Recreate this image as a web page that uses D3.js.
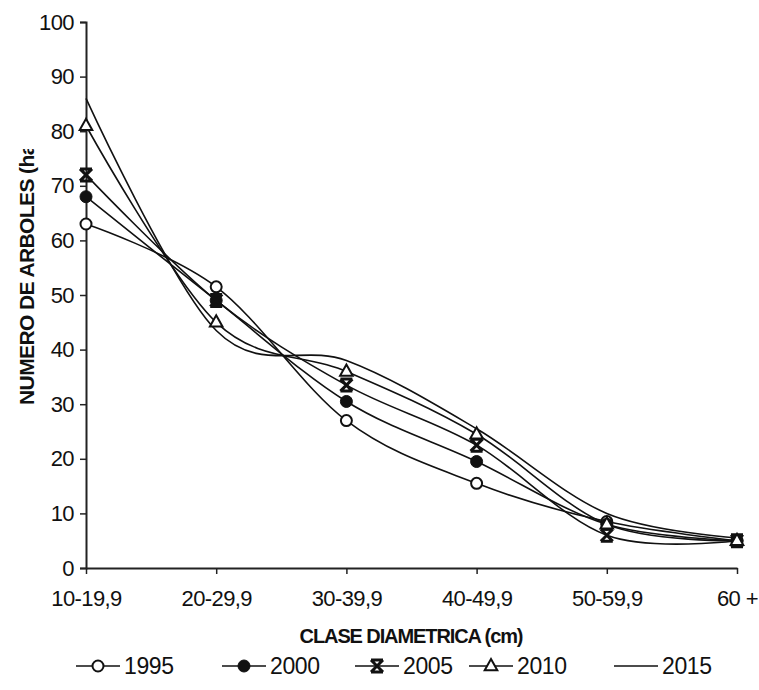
<!DOCTYPE html>
<html>
<head>
<meta charset="utf-8">
<script src="https://cdn.jsdelivr.net/npm/d3@7"></script>
<style>
  html, body { margin: 0; padding: 0; background: #fff; }
  svg { display: block; }
  text { font-family: "Liberation Sans", Arial, sans-serif; fill: #111; }
</style>
</head>
<body>
<svg id="chart" width="759" height="690"></svg>
<script>
// Diameter classes (x axis)
const categories = ["10-19,9", "20-29,9", "30-39,9", "40-49,9", "50-59,9", "60 +"];
// Trees per hectare by diameter class, one array per census year
const s1995 = [63, 51.5, 27, 15.5, 8.5, 5];
const s2000 = [68, 49, 30.5, 19.5, 8, 5];
const s2005 = [72, 49, 33.5, 22.5, 6, 5];
const s2010 = [81, 45, 36, 24.5, 8, 5];
const s2015 = [86, 43.5, 38, 25.5, 10, 5.5];
const years = ["1995", "2000", "2005", "2010", "2015"];
const yTicks = [0, 10, 20, 30, 40, 50, 60, 70, 80, 90, 100];

const series = [
  { name: years[0], values: s1995, marker: "circleOpen" },
  { name: years[1], values: s2000, marker: "circleFilled" },
  { name: years[2], values: s2005, marker: "star" },
  { name: years[3], values: s2010, marker: "triangle" },
  { name: years[4], values: s2015, marker: "none" }
];

const svg = d3.select("#chart");
const plot = { left: 86, right: 737, top: 22, bottom: 568 };

const x = d3.scalePoint().domain(categories).range([plot.left, plot.right]);
const y = d3.scaleLinear().domain([0, 100]).range([plot.bottom, plot.top]);

// Axes
const yAxis = d3.axisLeft(y).tickValues(yTicks).tickSize(6).tickPadding(6);
const gy = svg.append("g").attr("transform", `translate(${plot.left},0)`).call(yAxis);
gy.select(".domain").attr("stroke", "#222").attr("stroke-width", 2);
gy.selectAll(".tick line").attr("stroke", "#222").attr("stroke-width", 1.5);
gy.selectAll(".tick text").attr("font-size", 22).attr("letter-spacing", -0.6).attr("fill", "#111")
  .attr("font-family", "Liberation Sans, Arial, sans-serif");

const xAxis = d3.axisBottom(x).tickSize(6).tickPadding(16).tickSizeOuter(0);
const gx = svg.append("g").attr("transform", `translate(0,${plot.bottom})`).call(xAxis);
gx.select(".domain").attr("stroke", "#222").attr("stroke-width", 2);
gx.selectAll(".tick line").attr("stroke", "#222").attr("stroke-width", 1.5);
gx.selectAll(".tick text").attr("font-size", 22).attr("letter-spacing", -0.6).attr("fill", "#111")
  .attr("font-family", "Liberation Sans, Arial, sans-serif");

// Smoothed lines
const line = d3.line()
  .x((d, i) => x(categories[i]))
  .y(d => y(d))
  .curve(d3.curveCatmullRom.alpha(0));

svg.append("g").selectAll("path.series")
  .data(series)
  .join("path")
  .attr("class", "series")
  .attr("d", d => line(d.values))
  .attr("fill", "none")
  .attr("stroke", "#111")
  .attr("stroke-width", 1.6);

// Marker drawing
function drawMarker(g, type, cx, cy) {
  if (type === "circleOpen") {
    g.append("circle").attr("cx", cx).attr("cy", cy).attr("r", 5.5)
      .attr("fill", "#fff").attr("stroke", "#111").attr("stroke-width", 2);
  } else if (type === "circleFilled") {
    g.append("circle").attr("cx", cx).attr("cy", cy).attr("r", 6)
      .attr("fill", "#111").attr("stroke", "#111").attr("stroke-width", 1);
  } else if (type === "star") {
    const s = 6;
    g.append("path")
      .attr("d", `M${cx - s},${cy - s}L${cx + s},${cy + s}M${cx + s},${cy - s}L${cx - s},${cy + s}` +
                 `M${cx - s},${cy - s}L${cx + s},${cy - s}M${cx - s},${cy + s}L${cx + s},${cy + s}`)
      .attr("stroke", "#111").attr("stroke-width", 3).attr("fill", "none");
  } else if (type === "triangle") {
    const s = 7;
    g.append("path")
      .attr("d", `M${cx},${cy - s}L${cx + s * 0.9},${cy + s * 0.6}L${cx - s * 0.9},${cy + s * 0.6}Z`)
      .attr("fill", "#fff").attr("stroke", "#111").attr("stroke-width", 2);
  }
}

const gm = svg.append("g");
series.forEach(sr => {
  if (sr.marker === "none") return;
  sr.values.forEach((v, i) => drawMarker(gm, sr.marker, x(categories[i]), y(v)));
});

// Axis titles (the vertical one is cut off at the top edge of its box)
svg.append("defs").append("clipPath").attr("id", "ytitleClip")
  .append("rect").attr("x", 0).attr("y", 149).attr("width", 60).attr("height", 400);
svg.append("g")
  .attr("clip-path", "url(#ytitleClip)")
  .append("text")
  .attr("transform", "translate(34,405) rotate(-90)")
  .attr("text-anchor", "start")
  .attr("font-size", 21).attr("font-weight", "bold")
  .attr("letter-spacing", -0.6)
  .text("NUMERO DE ARBOLES (ha)");

svg.append("text")
  .attr("x", 411).attr("y", 643)
  .attr("text-anchor", "middle")
  .attr("font-size", 20).attr("font-weight", "bold")
  .attr("letter-spacing", -1.1)
  .text("CLASE DIAMETRICA (cm)");

// Legend
const legendItems = [
  { name: years[0], marker: "circleOpen", x0: 76 },
  { name: years[1], marker: "circleFilled", x0: 222 },
  { name: years[2], marker: "star", x0: 355 },
  { name: years[3], marker: "triangle", x0: 469 },
  { name: years[4], marker: "none", x0: 614 }
];
const ly = 666;
const lg = svg.append("g");
legendItems.forEach(it => {
  lg.append("line").attr("x1", it.x0).attr("x2", it.x0 + 44)
    .attr("y1", ly).attr("y2", ly).attr("stroke", "#111").attr("stroke-width", 1.6);
  drawMarker(lg, it.marker, it.x0 + 22, ly);
  lg.append("text").attr("x", it.x0 + 48).attr("y", ly + 8)
    .attr("font-size", 23).attr("letter-spacing", -0.4).text(it.name);
});
</script>
</body>
</html>
